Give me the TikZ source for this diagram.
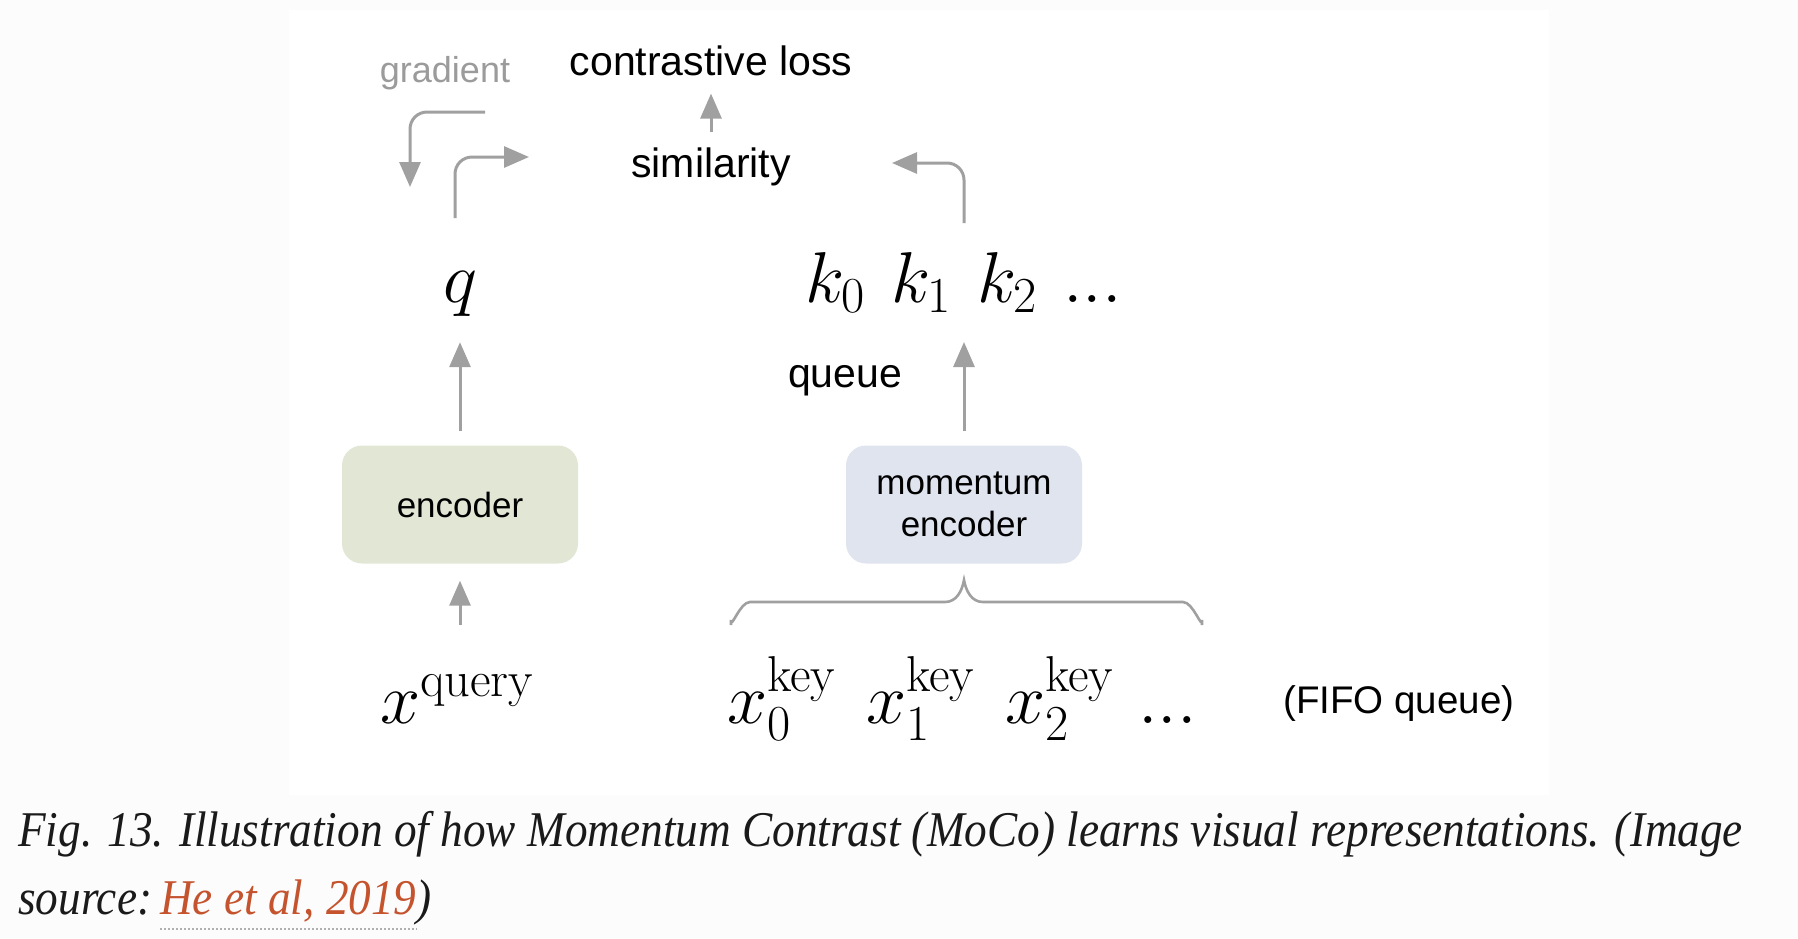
\RequirePackage{fix-cm}
\documentclass[tikz,border=0pt]{standalone}
\usepackage[no-math]{fontspec}
\newfontfamily\arialf{Liberation Sans}
\newfontfamily\capf{Liberation Serif}[FakeStretch=0.905]
\usetikzlibrary{arrows.meta}
\definecolor{arrowgray}{HTML}{A0A0A0}
\definecolor{gradgray}{HTML}{9B9B9B}
\definecolor{encgreen}{HTML}{E2E7D5}
\definecolor{momblue}{HTML}{DFE4EF}
\definecolor{outerbg}{HTML}{FCFCFC}
\definecolor{captxt}{HTML}{1A1A1A}
\definecolor{linkred}{HTML}{C4532E}
\definecolor{dotgray}{HTML}{B0B0B0}
\begin{document}
\begin{tikzpicture}[x=1pt,y=-1pt,
  arr/.style={draw=arrowgray, line width=3pt, -{Triangle[length=25pt,width=21pt]}},
  lbl/.style={inner sep=0pt, anchor=base, text=black, font=\arialf\fontsize{41}{48}\selectfont},
  mth/.style={inner sep=0pt, text=black, font=\fontsize{72}{80}\selectfont},
  encbox/.style={rounded corners=20pt, minimum width=236pt, minimum height=118pt, inner sep=0pt,
    align=center, font=\arialf\fontsize{35}{42}\selectfont},
  captext/.style={inner sep=0pt, anchor=base west, text=captxt, font=\capf\itshape\fontsize{50}{60}\selectfont}]
% background
\path[use as bounding box, fill=outerbg] (0,0) rectangle (1798,938);
\fill[white] (289,10) rectangle (1549,795);
% top texts
\node[lbl, text=gradgray, font=\arialf\fontsize{36}{42}\selectfont] (grad) at (445,82) {gradient};
\node[lbl] (loss) at (711,75) {contrastive loss};
\node[lbl] (sim) at (711,177) {similarity};
% representations
\node[mth, anchor=base] (q) at (460,302) {$q$};
\node[mth, anchor=base west] (k0) at (805,302) {$k_0$};
\node[mth, anchor=base west] (k1) at (891,302) {$k_1$};
\node[mth, anchor=base west] (k2) at (977,302) {$k_2$};
\node[mth, anchor=base west] (kd) at (1063,302) {${.}{.}{.}$};
\node[lbl] (queue) at (845,387) {queue};
% encoders
\node[encbox, fill=encgreen] (enc) at (460,504.5) {encoder};
\node[encbox, fill=momblue] (menc) at (964,504.5) {momentum\\encoder};
% inputs
\node[mth, anchor=base west] (xq) at (380,723) {$x^{\mathrm{query}}$};
\node[mth, anchor=base west] (x0) at (727,723) {$x_0^{\raisebox{5pt}{$\scriptstyle\mathrm{key}$}}$};
\node[mth, anchor=base west] (x1) at (866,723) {$x_1^{\raisebox{5pt}{$\scriptstyle\mathrm{key}$}}$};
\node[mth, anchor=base west] (x2) at (1005,723) {$x_2^{\raisebox{5pt}{$\scriptstyle\mathrm{key}$}}$};
\node[mth, anchor=base west] (xd) at (1138,723) {${.}{.}{.}$};
\node[lbl, anchor=base west, font=\arialf\fontsize{38.5}{45}\selectfont] (fifo) at (1283,713) {(FIFO queue)};
% free ends of connectors
\coordinate (g1s) at (485,112);
\coordinate (g1e) at (410,187);
\coordinate (g2s) at (455,218);
\coordinate (g2e) at (529,157);
\coordinate (kas) at (964,223);
\coordinate (kae) at (892,163);
\coordinate (kin) at (964,342);
\coordinate (xqa) at (460,625);
% connectors
\draw[arr, shorten <=15pt, shorten >=18pt] (sim.north) -- (loss.south);
\draw[arr, rounded corners=17pt] (g1s) -| (g1e);
\draw[arr, rounded corners=17pt] (g2s) |- (g2e);
\draw[arr, rounded corners=17pt] (kas) |- (kae);
\draw[arr, shorten <=14pt, shorten >=26pt] (enc.north) -- (q.south);
\draw[arr, shorten <=14pt] (menc.north) -- (kin);
\draw[arr, shorten >=17pt] (xqa) -- (enc.south);
% brace
\draw[draw=arrowgray, line width=2.6pt]
  (731,625) -- (731,620) to[out=-90,in=180] (750,602) -- (945,602)
  to[out=0,in=-100] (964,580) to[out=-80,in=180] (983,602) -- (1183,602)
  to[out=0,in=-90] (1202,620) -- (1202,625);
% caption
\node[captext] (cap1) at (18,846) {Fig. 13. Illustration of how Momentum Contrast (MoCo) learns visual representations. (Image};
\node[captext] (cap2) at (18,914) {source:};
\node[captext, text=linkred] (link) at (160,914) {He et al, 2019};
\node[captext] (cpar) at (link.base east) {)};
\draw[dotgray, line width=1.5pt, dash pattern=on 2pt off 2pt] ([yshift=-15pt]link.base west) -- ([yshift=-15pt]link.base east);
\end{tikzpicture}
\end{document}
